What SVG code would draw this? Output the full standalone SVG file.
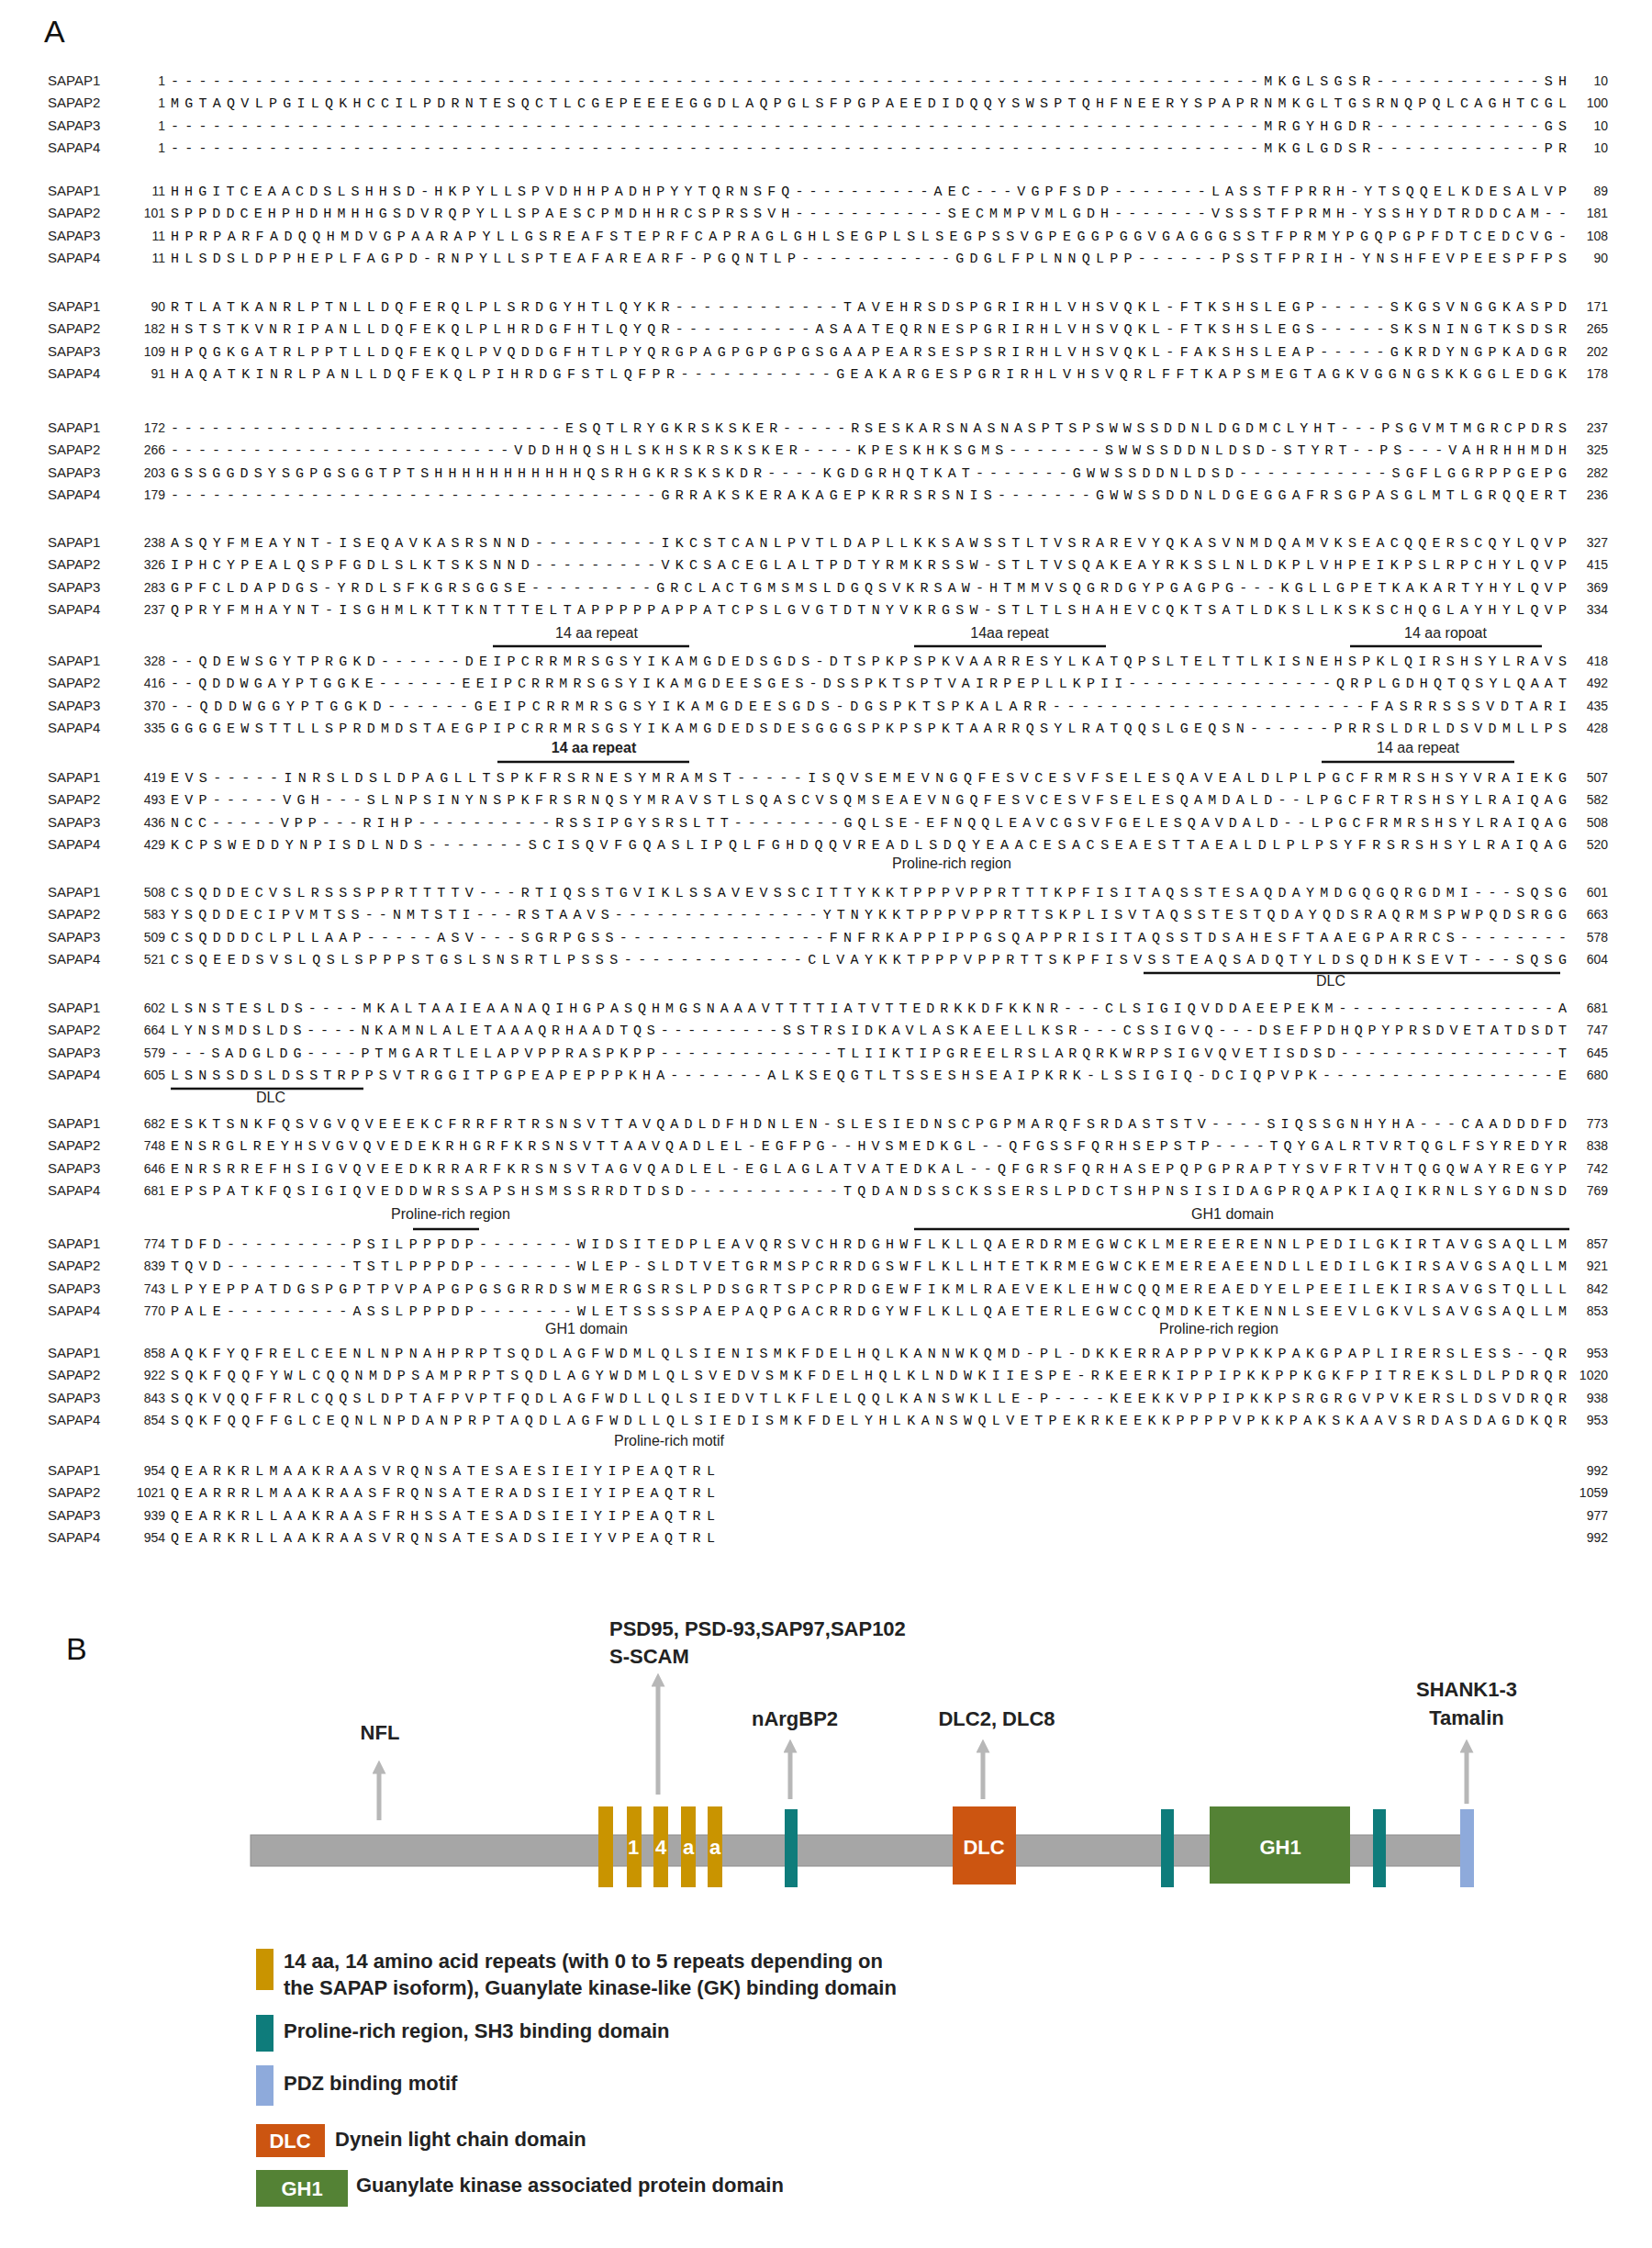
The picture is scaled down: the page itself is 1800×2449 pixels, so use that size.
<svg xmlns="http://www.w3.org/2000/svg" width="1800" height="2449" viewBox="0 0 1800 2449">
<style>
.nm{font-family:"Liberation Sans",Arial,sans-serif;font-size:15px;fill:#222}
.n0{font-family:"Liberation Sans",Arial,sans-serif;font-size:14px;fill:#222;text-anchor:end}
.sq{font-family:"Liberation Mono",monospace;font-size:15px;fill:#111}
.an{font-family:"Liberation Sans",Arial,sans-serif;font-size:16px;fill:#222;text-anchor:middle}
.al{stroke:#111;stroke-width:2.5}
.hd{font-family:"Liberation Sans",Arial,sans-serif;font-size:34px;fill:#111}
.lb{font-family:"Liberation Sans",Arial,sans-serif;font-size:22px;font-weight:bold;fill:#222}
.lbm{font-family:"Liberation Sans",Arial,sans-serif;font-size:22px;font-weight:bold;fill:#222;text-anchor:middle}
.in{font-family:"Liberation Sans",Arial,sans-serif;font-size:22px;font-weight:bold;fill:#fff;text-anchor:middle}
.ar{stroke:#b7b7b7;stroke-width:5;fill:none}
.y{fill:#c99400}.t{fill:#0e7c7b}.p{fill:#8eaadb}.o{fill:#cc5511}.g{fill:#548235}
</style>
<defs><marker id="ah" viewBox="0 0 10 10" refX="5" refY="5" markerWidth="3" markerHeight="3" orient="auto"><path d="M0,0 L10,5 L0,10z" fill="#b7b7b7"/></marker></defs>
<text class="hd" x="48" y="46">A</text>
<g id="alignment">
<g id="block1"><text class="nm" x="52" y="93">SAPAP1</text><text class="n0" x="180" y="93">1</text><text class="sq" x="186" y="93" textLength="1521" lengthAdjust="spacing">------------------------------------------------------------------------------MKGLSGSR------------SH</text><text class="n0" x="1752" y="93">10</text>
<text class="nm" x="52" y="117">SAPAP2</text><text class="n0" x="180" y="117">1</text><text class="sq" x="186" y="117" textLength="1521" lengthAdjust="spacing">MGTAQVLPGILQKHCCILPDRNTESQCTLCGEPEEEEGGDLAQPGLSFPGPAEEDIDQQYSWSPTQHFNEERYSPAPRNMKGLTGSRNQPQLCAGHTCGL</text><text class="n0" x="1752" y="117">100</text>
<text class="nm" x="52" y="142">SAPAP3</text><text class="n0" x="180" y="142">1</text><text class="sq" x="186" y="142" textLength="1521" lengthAdjust="spacing">------------------------------------------------------------------------------MRGYHGDR------------GS</text><text class="n0" x="1752" y="142">10</text>
<text class="nm" x="52" y="166">SAPAP4</text><text class="n0" x="180" y="166">1</text><text class="sq" x="186" y="166" textLength="1521" lengthAdjust="spacing">------------------------------------------------------------------------------MKGLGDSR------------PR</text><text class="n0" x="1752" y="166">10</text></g>
<g id="block2"><text class="nm" x="52" y="213">SAPAP1</text><text class="n0" x="180" y="213">11</text><text class="sq" x="186" y="213" textLength="1521" lengthAdjust="spacing">HHGITCEAACDSLSHHSD-HKPYLLSPVDHHPADHPYYTQRNSFQ----------AEC---VGPFSDP-------LASSTFPRRH-YTSQQELKDESALVP</text><text class="n0" x="1752" y="213">89</text>
<text class="nm" x="52" y="237">SAPAP2</text><text class="n0" x="180" y="237">101</text><text class="sq" x="186" y="237" textLength="1521" lengthAdjust="spacing">SPPDDCEHPHDHMHHGSDVRQPYLLSPAESCPMDHHRCSPRSSVH-----------SECMMPVMLGDH-------VSSSTFPRMH-YSSHYDTRDDCAM--</text><text class="n0" x="1752" y="237">181</text>
<text class="nm" x="52" y="262">SAPAP3</text><text class="n0" x="180" y="262">11</text><text class="sq" x="186" y="262" textLength="1521" lengthAdjust="spacing">HPRPARFADQQHMDVGPAARAPYLLGSREAFSTEPRFCAPRAGLGHLSEGPLSLSEGPSSVGPEGGPGGVGAGGGSSTFPRMYPGQPGPFDTCEDCVG-</text><text class="n0" x="1752" y="262">108</text>
<text class="nm" x="52" y="286">SAPAP4</text><text class="n0" x="180" y="286">11</text><text class="sq" x="186" y="286" textLength="1521" lengthAdjust="spacing">HLSDSLDPPHEPLFAGPD-RNPYLLSPTEAFAREARF-PGQNTLP-----------GDGLFPLNNQLPP------PSSTFPRIH-YNSHFEVPEESPFPS</text><text class="n0" x="1752" y="286">90</text></g>
<g id="block3"><text class="nm" x="52" y="339">SAPAP1</text><text class="n0" x="180" y="339">90</text><text class="sq" x="186" y="339" textLength="1521" lengthAdjust="spacing">RTLATKANRLPTNLLDQFERQLPLSRDGYHTLQYKR------------TAVEHRSDSPGRIRHLVHSVQKL-FTKSHSLEGP-----SKGSVNGGKASPD</text><text class="n0" x="1752" y="339">171</text>
<text class="nm" x="52" y="363">SAPAP2</text><text class="n0" x="180" y="363">182</text><text class="sq" x="186" y="363" textLength="1521" lengthAdjust="spacing">HSTSTKVNRIPANLLDQFEKQLPLHRDGFHTLQYQR----------ASAATEQRNESPGRIRHLVHSVQKL-FTKSHSLEGS-----SKSNINGTKSDSR</text><text class="n0" x="1752" y="363">265</text>
<text class="nm" x="52" y="388">SAPAP3</text><text class="n0" x="180" y="388">109</text><text class="sq" x="186" y="388" textLength="1521" lengthAdjust="spacing">HPQGKGATRLPPTLLDQFEKQLPVQDDGFHTLPYQRGPAGPGPGPGSGAAPEARSESPSRIRHLVHSVQKL-FAKSHSLEAP-----GKRDYNGPKADGR</text><text class="n0" x="1752" y="388">202</text>
<text class="nm" x="52" y="412">SAPAP4</text><text class="n0" x="180" y="412">91</text><text class="sq" x="186" y="412" textLength="1521" lengthAdjust="spacing">HAQATKINRLPANLLDQFEKQLPIHRDGFSTLQFPR-----------GEAKARGESPGRIRHLVHSVQRLFFTKAPSMEGTAGKVGGNGSKKGGLEDGK</text><text class="n0" x="1752" y="412">178</text></g>
<g id="block4"><text class="nm" x="52" y="471">SAPAP1</text><text class="n0" x="180" y="471">172</text><text class="sq" x="186" y="471" textLength="1521" lengthAdjust="spacing">-----------------------------ESQTLRYGKRSKSKER-----RSESKARSNASNASPTSPSWWSSDDNLDGDMCLYHT---PSGVMTMGRCPDRS</text><text class="n0" x="1752" y="471">237</text>
<text class="nm" x="52" y="495">SAPAP2</text><text class="n0" x="180" y="495">266</text><text class="sq" x="186" y="495" textLength="1521" lengthAdjust="spacing">-------------------------VDDHHQSHLSKHSKRSKSKER----KPESKHKSGMS-------SWWSSDDNLDSD-STYRT--PS---VAHRHHMDH</text><text class="n0" x="1752" y="495">325</text>
<text class="nm" x="52" y="520">SAPAP3</text><text class="n0" x="180" y="520">203</text><text class="sq" x="186" y="520" textLength="1521" lengthAdjust="spacing">GSSGGDSYSGPGSGGTPTSHHHHHHHHHHHQSRHGKRSKSKDR----KGDGRHQTKAT-------GWWSSDDNLDSD-----------SGFLGGRPPGEPG</text><text class="n0" x="1752" y="520">282</text>
<text class="nm" x="52" y="544">SAPAP4</text><text class="n0" x="180" y="544">179</text><text class="sq" x="186" y="544" textLength="1521" lengthAdjust="spacing">-----------------------------------GRRAKSKERAKAGEPKRRSRSNIS-------GWWSSDDNLDGEGGAFRSGPASGLMTLGRQQERT</text><text class="n0" x="1752" y="544">236</text></g>
<g id="block5"><text class="nm" x="52" y="596">SAPAP1</text><text class="n0" x="180" y="596">238</text><text class="sq" x="186" y="596" textLength="1521" lengthAdjust="spacing">ASQYFMEAYNT-ISEQAVKASRSNND---------IKCSTCANLPVTLDAPLLKKSAWSSTLTVSRAREVYQKASVNMDQAMVKSEACQQERSCQYLQVP</text><text class="n0" x="1752" y="596">327</text>
<text class="nm" x="52" y="620">SAPAP2</text><text class="n0" x="180" y="620">326</text><text class="sq" x="186" y="620" textLength="1521" lengthAdjust="spacing">IPHCYPEALQSPFGDLSLKTSKSNND---------VKCSACEGLALTPDTYRMKRSSW-STLTVSQAKEAYRKSSLNLDKPLVHPEIKPSLRPCHYLQVP</text><text class="n0" x="1752" y="620">415</text>
<text class="nm" x="52" y="645">SAPAP3</text><text class="n0" x="180" y="645">283</text><text class="sq" x="186" y="645" textLength="1521" lengthAdjust="spacing">GPFCLDAPDGS-YRDLSFKGRSGGSE---------GRCLACTGMSMSLDGQSVKRSAW-HTMMVSQGRDGYPGAGPG---KGLLGPETKAKARTYHYLQVP</text><text class="n0" x="1752" y="645">369</text>
<text class="nm" x="52" y="669">SAPAP4</text><text class="n0" x="180" y="669">237</text><text class="sq" x="186" y="669" textLength="1521" lengthAdjust="spacing">QPRYFMHAYNT-ISGHMLKTTKNTTTELTAPPPPPAPPATCPSLGVGTDTNYVKRGSW-STLTLSHAHEVCQKTSATLDKSLLKSKSCHQGLAYHYLQVP</text><text class="n0" x="1752" y="669">334</text></g>
<g id="block6"><text class="nm" x="52" y="725">SAPAP1</text><text class="n0" x="180" y="725">328</text><text class="sq" x="186" y="725" textLength="1521" lengthAdjust="spacing">--QDEWSGYTPRGKD------DEIPCRRMRSGSYIKAMGDEDSGDS-DTSPKPSPKVAARRESYLKATQPSLTELTTLKISNEHSPKLQIRSHSYLRAVS</text><text class="n0" x="1752" y="725">418</text>
<text class="nm" x="52" y="749">SAPAP2</text><text class="n0" x="180" y="749">416</text><text class="sq" x="186" y="749" textLength="1521" lengthAdjust="spacing">--QDDWGAYPTGGKE------EEIPCRRMRSGSYIKAMGDEESGES-DSSPKTSPTVAIRPEPLLKPII---------------QRPLGDHQTQSYLQAAT</text><text class="n0" x="1752" y="749">492</text>
<text class="nm" x="52" y="774">SAPAP3</text><text class="n0" x="180" y="774">370</text><text class="sq" x="186" y="774" textLength="1521" lengthAdjust="spacing">--QDDWGGYPTGGKD------GEIPCRRMRSGSYIKAMGDEESGDS-DGSPKTSPKALARR----------------------FASRRSSSVDTARI</text><text class="n0" x="1752" y="774">435</text>
<text class="nm" x="52" y="798">SAPAP4</text><text class="n0" x="180" y="798">335</text><text class="sq" x="186" y="798" textLength="1521" lengthAdjust="spacing">GGGGEWSTTLLSPRDMDSTAEGPIPCRRMRSGSYIKAMGDEDSDESGGGSPKPSPKTAARRQSYLRATQQSLGEQSN------PRRSLDRLDSVDMLLPS</text><text class="n0" x="1752" y="798">428</text></g>
<g id="block7"><text class="nm" x="52" y="852">SAPAP1</text><text class="n0" x="180" y="852">419</text><text class="sq" x="186" y="852" textLength="1521" lengthAdjust="spacing">EVS-----INRSLDSLDPAGLLTSPKFRSRNESYMRAMST-----ISQVSEMEVNGQFESVCESVFSELESQAVEALDLPLPGCFRMRSHSYVRAIEKG</text><text class="n0" x="1752" y="852">507</text>
<text class="nm" x="52" y="876">SAPAP2</text><text class="n0" x="180" y="876">493</text><text class="sq" x="186" y="876" textLength="1521" lengthAdjust="spacing">EVP-----VGH---SLNPSINYNSPKFRSRNQSYMRAVSTLSQASCVSQMSEAEVNGQFESVCESVFSELESQAMDALD--LPGCFRTRSHSYLRAIQAG</text><text class="n0" x="1752" y="876">582</text>
<text class="nm" x="52" y="901">SAPAP3</text><text class="n0" x="180" y="901">436</text><text class="sq" x="186" y="901" textLength="1521" lengthAdjust="spacing">NCC-----VPP---RIHP----------RSSIPGYSRSLTT--------GQLSE-EFNQQLEAVCGSVFGELESQAVDALD--LPGCFRMRSHSYLRAIQAG</text><text class="n0" x="1752" y="901">508</text>
<text class="nm" x="52" y="925">SAPAP4</text><text class="n0" x="180" y="925">429</text><text class="sq" x="186" y="925" textLength="1521" lengthAdjust="spacing">KCPSWEDDYNPISDLNDS-------SCISQVFGQASLIPQLFGHDQQVREADLSDQYEAACESACSEAESTTAEALDLPLPSYFRSRSHSYLRAIQAG</text><text class="n0" x="1752" y="925">520</text></g>
<g id="block8"><text class="nm" x="52" y="977">SAPAP1</text><text class="n0" x="180" y="977">508</text><text class="sq" x="186" y="977" textLength="1521" lengthAdjust="spacing">CSQDDECVSLRSSSPPRTTTTV---RTIQSSTGVIKLSSAVEVSSCITTYKKTPPPVPPRTTTKPFISITAQSSTESAQDAYMDGQGQRGDMI---SQSG</text><text class="n0" x="1752" y="977">601</text>
<text class="nm" x="52" y="1001">SAPAP2</text><text class="n0" x="180" y="1001">583</text><text class="sq" x="186" y="1001" textLength="1521" lengthAdjust="spacing">YSQDDECIPVMTSS--NMTSTI---RSTAAVS---------------YTNYKKTPPPVPPRTTSKPLISVTAQSSTESTQDAYQDSRAQRMSPWPQDSRGG</text><text class="n0" x="1752" y="1001">663</text>
<text class="nm" x="52" y="1026">SAPAP3</text><text class="n0" x="180" y="1026">509</text><text class="sq" x="186" y="1026" textLength="1521" lengthAdjust="spacing">CSQDDDCLPLLAAP-----ASV---SGRPGSS---------------FNFRKAPPIPPGSQAPPRISITAQSSTDSAHESFTAAEGPARRCS--------</text><text class="n0" x="1752" y="1026">578</text>
<text class="nm" x="52" y="1050">SAPAP4</text><text class="n0" x="180" y="1050">521</text><text class="sq" x="186" y="1050" textLength="1521" lengthAdjust="spacing">CSQEEDSVSLQSLSPPPSTGSLSNSRTLPSSS-------------CLVAYKKTPPPVPPRTTSKPFISVSSTEAQSADQTYLDSQDHKSEVT---SQSG</text><text class="n0" x="1752" y="1050">604</text></g>
<g id="block9"><text class="nm" x="52" y="1103">SAPAP1</text><text class="n0" x="180" y="1103">602</text><text class="sq" x="186" y="1103" textLength="1521" lengthAdjust="spacing">LSNSTESLDS----MKALTAAIEAANAQIHGPASQHMGSNAAAVTTTTIATVTTEDRKKDFKKNR---CLSIGIQVDDAEEPEKM----------------A</text><text class="n0" x="1752" y="1103">681</text>
<text class="nm" x="52" y="1127">SAPAP2</text><text class="n0" x="180" y="1127">664</text><text class="sq" x="186" y="1127" textLength="1521" lengthAdjust="spacing">LYNSMDSLDS----NKAMNLALETAAAQRHAADTQS---------SSTRSIDKAVLASKAEELLKSR---CSSIGVQ---DSEFPDHQPYPRSDVETATDSDT</text><text class="n0" x="1752" y="1127">747</text>
<text class="nm" x="52" y="1152">SAPAP3</text><text class="n0" x="180" y="1152">579</text><text class="sq" x="186" y="1152" textLength="1521" lengthAdjust="spacing">---SADGLDG----PTMGARTLELAPVPPRASPKPP-------------TLIIKTIPGREELRSLARQRKWRPSIGVQVETISDSD----------------T</text><text class="n0" x="1752" y="1152">645</text>
<text class="nm" x="52" y="1176">SAPAP4</text><text class="n0" x="180" y="1176">605</text><text class="sq" x="186" y="1176" textLength="1521" lengthAdjust="spacing">LSNSSDSLDSSTRPPSVTRGGITPGPEAPEPPPKHA-------ALKSEQGTLTSSESHSEAIPKRK-LSSIGIQ-DCIQPVPK-----------------E</text><text class="n0" x="1752" y="1176">680</text></g>
<g id="block10"><text class="nm" x="52" y="1229">SAPAP1</text><text class="n0" x="180" y="1229">682</text><text class="sq" x="186" y="1229" textLength="1521" lengthAdjust="spacing">ESKTSNKFQSVGVQVEEEKCFRRFRTRSNSVTTAVQADLDFHDNLEN-SLESIEDNSCPGPMARQFSRDASTSTV----SIQSSGNHYHA---CAADDDFD</text><text class="n0" x="1752" y="1229">773</text>
<text class="nm" x="52" y="1253">SAPAP2</text><text class="n0" x="180" y="1253">748</text><text class="sq" x="186" y="1253" textLength="1521" lengthAdjust="spacing">ENSRGLREYHSVGVQVEDEKRHGRFKRSNSVTTAAVQADLEL-EGFPG--HVSMEDKGL--QFGSSFQRHSEPSTP----TQYGALRTVRTQGLFSYREDYR</text><text class="n0" x="1752" y="1253">838</text>
<text class="nm" x="52" y="1278">SAPAP3</text><text class="n0" x="180" y="1278">646</text><text class="sq" x="186" y="1278" textLength="1521" lengthAdjust="spacing">ENRSRREFHSIGVQVEEDKRRARFKRSNSVTAGVQADLEL-EGLAGLATVATEDKAL--QFGRSFQRHASEPQPGPRAPTYSVFRTVHTQGQWAYREGYP</text><text class="n0" x="1752" y="1278">742</text>
<text class="nm" x="52" y="1302">SAPAP4</text><text class="n0" x="180" y="1302">681</text><text class="sq" x="186" y="1302" textLength="1521" lengthAdjust="spacing">EPSPATKFQSIGIQVEDDWRSSAPSHSMSSRRDTDSD-----------TQDANDSSCKSSERSLPDCTSHPNSISIDAGPRQAPKIAQIKRNLSYGDNSD</text><text class="n0" x="1752" y="1302">769</text></g>
<g id="block11"><text class="nm" x="52" y="1360">SAPAP1</text><text class="n0" x="180" y="1360">774</text><text class="sq" x="186" y="1360" textLength="1521" lengthAdjust="spacing">TDFD---------PSILPPPDP-------WIDSITEDPLEAVQRSVCHRDGHWFLKLLQAERDRMEGWCKLMEREERENNLPEDILGKIRTAVGSAQLLM</text><text class="n0" x="1752" y="1360">857</text>
<text class="nm" x="52" y="1384">SAPAP2</text><text class="n0" x="180" y="1384">839</text><text class="sq" x="186" y="1384" textLength="1521" lengthAdjust="spacing">TQVD---------TSTLPPPDP-------WLEP-SLDTVETGRMSPCRRDGSWFLKLLHTETKRMEGWCKEMEREAEENDLLEDILGKIRSAVGSAQLLM</text><text class="n0" x="1752" y="1384">921</text>
<text class="nm" x="52" y="1409">SAPAP3</text><text class="n0" x="180" y="1409">743</text><text class="sq" x="186" y="1409" textLength="1521" lengthAdjust="spacing">LPYEPPATDGSPGPTPVPAPGPGSGRRDSWMERGSRSLPDSGRTSPCPRDGEWFIKMLRAEVEKLEHWCQQMEREAEDYELPEEILEKIRSAVGSTQLLL</text><text class="n0" x="1752" y="1409">842</text>
<text class="nm" x="52" y="1433">SAPAP4</text><text class="n0" x="180" y="1433">770</text><text class="sq" x="186" y="1433" textLength="1521" lengthAdjust="spacing">PALE---------ASSLPPPDP-------WLETSSSSPAEPAQPGACRRDGYWFLKLLQAETERLEGWCCQMDKETKENNLSEEVLGKVLSAVGSAQLLM</text><text class="n0" x="1752" y="1433">853</text></g>
<g id="block12"><text class="nm" x="52" y="1479">SAPAP1</text><text class="n0" x="180" y="1479">858</text><text class="sq" x="186" y="1479" textLength="1521" lengthAdjust="spacing">AQKFYQFRELCEENLNPNAHPRPTSQDLAGFWDMLQLSIENISMKFDELHQLKANNWKQMD-PL-DKKERRAPPPVPKKPAKGPAPLIRERSLESS--QR</text><text class="n0" x="1752" y="1479">953</text>
<text class="nm" x="52" y="1503">SAPAP2</text><text class="n0" x="180" y="1503">922</text><text class="sq" x="186" y="1503" textLength="1521" lengthAdjust="spacing">SQKFQQFYWLCQQNMDPSAMPRPTSQDLAGYWDMLQLSVEDVSMKFDELHQLKLNDWKIIESPE-RKEERKIPPIPKKPPKGKFPITREKSLDLPDRQR</text><text class="n0" x="1752" y="1503">1020</text>
<text class="nm" x="52" y="1528">SAPAP3</text><text class="n0" x="180" y="1528">843</text><text class="sq" x="186" y="1528" textLength="1521" lengthAdjust="spacing">SQKVQQFFRLCQQSLDPTAFPVPTFQDLAGFWDLLQLSIEDVTLKFLELQQLKANSWKLLE-P----KEEKKVPPIPKKPSRGRGVPVKERSLDSVDRQR</text><text class="n0" x="1752" y="1528">938</text>
<text class="nm" x="52" y="1552">SAPAP4</text><text class="n0" x="180" y="1552">854</text><text class="sq" x="186" y="1552" textLength="1521" lengthAdjust="spacing">SQKFQQFFGLCEQNLNPDANPRPTAQDLAGFWDLLQLSIEDISMKFDELYHLKANSWQLVETPEKRKEEKKPPPPVPKKPAKSKAAVSRDASDAGDKQR</text><text class="n0" x="1752" y="1552">953</text></g>
<g id="block13"><text class="nm" x="52" y="1607">SAPAP1</text><text class="n0" x="180" y="1607">954</text><text class="sq" x="186" y="1607" textLength="593" lengthAdjust="spacing">QEARKRLMAAKRAASVRQNSATESAESIEIYIPEAQTRL</text><text class="n0" x="1752" y="1607">992</text>
<text class="nm" x="52" y="1631">SAPAP2</text><text class="n0" x="180" y="1631">1021</text><text class="sq" x="186" y="1631" textLength="593" lengthAdjust="spacing">QEARRRLMAAKRAASFRQNSATERADSIEIYIPEAQTRL</text><text class="n0" x="1752" y="1631">1059</text>
<text class="nm" x="52" y="1656">SAPAP3</text><text class="n0" x="180" y="1656">939</text><text class="sq" x="186" y="1656" textLength="593" lengthAdjust="spacing">QEARKRLLAAKRAASFRHSSATESADSIEIYIPEAQTRL</text><text class="n0" x="1752" y="1656">977</text>
<text class="nm" x="52" y="1680">SAPAP4</text><text class="n0" x="180" y="1680">954</text><text class="sq" x="186" y="1680" textLength="593" lengthAdjust="spacing">QEARKRLLAAKRAASVRQNSATESADSIEIYVPEAQTRL</text><text class="n0" x="1752" y="1680">992</text></g>
</g>
<g id="annotations">
<text class="an" x="650" y="695">14 aa repeat</text><line class="al" x1="537" y1="704" x2="751" y2="704"/>
<text class="an" x="1100" y="695">14aa repeat</text><line class="al" x1="996" y1="704" x2="1205" y2="704"/>
<text class="an" x="1575" y="695">14 aa ropoat</text><line class="al" x1="1471" y1="704" x2="1680" y2="704"/>
<text class="an" x="647" y="820" font-weight="bold">14 aa repeat</text><line class="al" x1="542" y1="830" x2="751" y2="830"/>
<text class="an" x="1545" y="820">14 aa repeat</text><line class="al" x1="1440" y1="830" x2="1650" y2="830"/>
<text class="an" x="1037" y="946">Proline-rich region</text>
<line class="al" x1="1246" y1="1060" x2="1700" y2="1060"/><text class="an" x="1450" y="1074">DLC</text>
<line class="al" x1="186" y1="1186" x2="396" y2="1186"/><text class="an" x="295" y="1201">DLC</text>
<text class="an" x="491" y="1328">Proline-rich region</text><line class="al" x1="450" y1="1339" x2="522" y2="1339"/>
<text class="an" x="1343" y="1328">GH1 domain</text><line class="al" x1="996" y1="1339" x2="1710" y2="1339"/>
<text class="an" x="639" y="1453">GH1 domain</text>
<text class="an" x="1328" y="1453">Proline-rich region</text>
<text class="an" x="729" y="1575">Proline-rich motif</text>
</g>
<text class="hd" x="72" y="1808">B</text>
<g id="connectors">
<line class="ar" x1="413" y1="1983" x2="413" y2="1925" marker-end="url(#ah)"/>
<line class="ar" x1="717" y1="1955" x2="717" y2="1830" marker-end="url(#ah)"/>
<line class="ar" x1="861" y1="1960" x2="861" y2="1902" marker-end="url(#ah)"/>
<line class="ar" x1="1071" y1="1960" x2="1071" y2="1902" marker-end="url(#ah)"/>
<line class="ar" x1="1598" y1="1965" x2="1598" y2="1902" marker-end="url(#ah)"/>
</g>
<g id="protein">
<rect x="273" y="1999" width="1325" height="34" fill="#a6a6a6" stroke="#8c8c8c"/>
<rect class="y" x="652" y="1968" width="16" height="88"/><rect class="y" x="683" y="1968" width="16" height="88"/><rect class="y" x="712" y="1968" width="16" height="88"/><rect class="y" x="742" y="1968" width="16" height="88"/><rect class="y" x="771" y="1968" width="16" height="88"/>
<text class="in" x="690" y="2020">1</text><text class="in" x="720" y="2020">4</text><text class="in" x="750" y="2020">a</text><text class="in" x="779" y="2020">a</text>
<rect class="t" x="855" y="1971" width="14" height="85"/><rect class="t" x="1265" y="1971" width="14" height="85"/><rect class="t" x="1496" y="1971" width="14" height="85"/>
<rect class="o" x="1038" y="1968" width="69" height="85"/><text class="in" x="1072" y="2020">DLC</text>
<rect class="g" x="1318" y="1968" width="153" height="84"/><text class="in" x="1395" y="2020">GH1</text>
<rect class="p" x="1591" y="1971" width="15" height="85"/>
</g>
<g id="labels">
<text class="lbm" x="414" y="1895">NFL</text>
<text class="lb" x="664" y="1782">PSD95, PSD-93,SAP97,SAP102</text>
<text class="lb" x="664" y="1812">S-SCAM</text>
<text class="lbm" x="866" y="1880">nArgBP2</text>
<text class="lbm" x="1086" y="1880">DLC2, DLC8</text>
<text class="lbm" x="1598" y="1848">SHANK1-3</text>
<text class="lbm" x="1598" y="1879">Tamalin</text>
</g>
<g id="legend">
<rect class="y" x="279" y="2123" width="19" height="45"/>
<text class="lb" x="309" y="2144">14 aa, 14 amino acid repeats (with 0 to 5 repeats depending on</text>
<text class="lb" x="309" y="2173">the SAPAP isoform), Guanylate kinase-like (GK)  binding domain</text>
<rect class="t" x="279" y="2195" width="19" height="40"/>
<text class="lb" x="309" y="2220">Proline-rich region, SH3 binding domain</text>
<rect class="p" x="279" y="2250" width="19" height="44"/>
<text class="lb" x="309" y="2277">PDZ binding motif</text>
<rect class="o" x="279" y="2314" width="75" height="36"/><text class="in" x="316" y="2340">DLC</text>
<text class="lb" x="365" y="2338">Dynein light chain domain</text>
<rect class="g" x="279" y="2364" width="100" height="40"/><text class="in" x="329" y="2392">GH1</text>
<text class="lb" x="388" y="2388">Guanylate kinase associated protein domain</text>
</g>
</svg>
